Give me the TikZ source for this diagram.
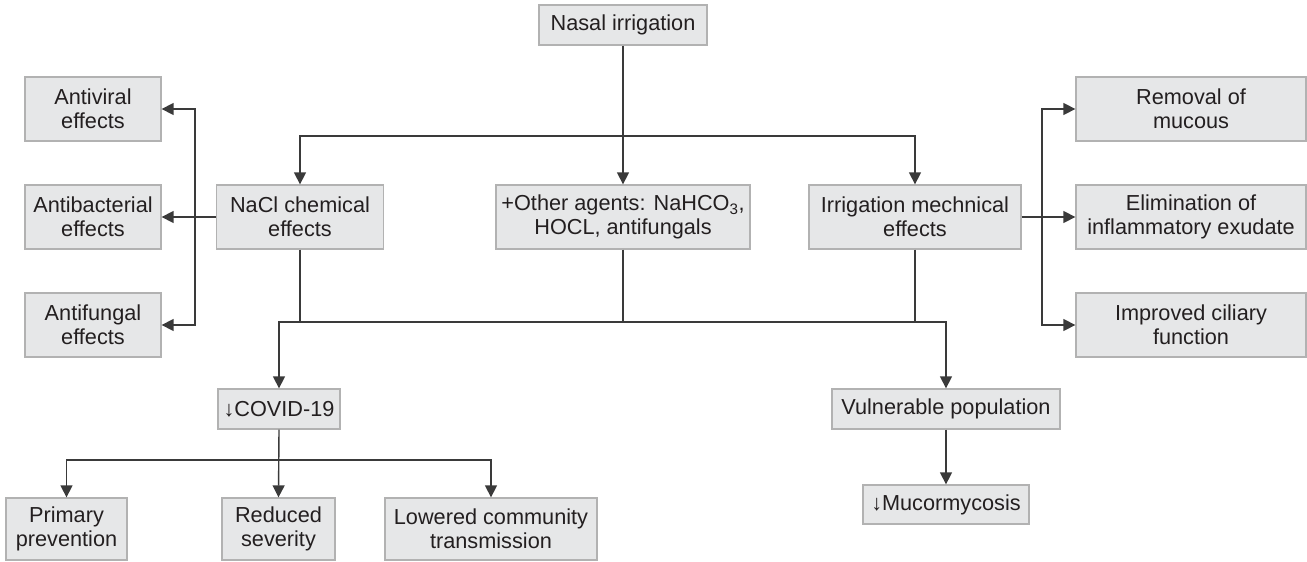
\documentclass[tikz,border=0pt]{standalone}
\usepackage{fontspec}
\setmainfont{Liberation Sans}
\usetikzlibrary{arrows.meta}
\definecolor{boxfill}{HTML}{E6E7E8}
\definecolor{boxline}{HTML}{B2B2B2}
\definecolor{lineC}{HTML}{3A3A3A}
\definecolor{txt}{HTML}{231F20}
\tikzset{
  box/.style={draw=boxline, line width=1.3pt, fill=boxfill, align=center, inner sep=0pt,
    text=txt, font=\fontsize{21.7}{23.8}\selectfont},
  conn/.style={draw=lineC, line width=1.4pt},
  arr/.style={conn, -{Triangle[length=12pt,width=12pt]}}
}
\begin{document}
\begin{tikzpicture}[x=1pt,y=-1pt]
\useasboundingbox (0,0) rectangle (1307,562);
% top
\node[box, minimum width=168pt, minimum height=40pt] (nasal) at (623,25) {Nasal irrigation};
\node[box, minimum width=254pt, minimum height=64pt] (other) at (623,217) {+Other agents: NaHCO\textsubscript{3},\\HOCL, antifungals};
\node[box, minimum width=167pt, minimum height=64pt] (nacl) at (300,217) {NaCl chemical\\effects};
\node[box, minimum width=212pt, minimum height=64pt] (irr) at (915,217) {Irrigation mechnical\\effects};
% left
\node[box, minimum width=136pt, minimum height=64pt] (avir) at (93,109) {Antiviral\\effects};
\node[box, minimum width=136pt, minimum height=64pt] (abac) at (93,217) {Antibacterial\\effects};
\node[box, minimum width=136pt, minimum height=64pt] (afun) at (93,325) {Antifungal\\effects};
% right
\node[box, minimum width=230pt, minimum height=64pt] (remo) at (1191,109) {Removal of\\mucous};
\node[box, minimum width=230pt, minimum height=64pt] (elim) at (1191,217) {Elimination of\\inflammatory exudate};
\node[box, minimum width=230pt, minimum height=64pt] (cili) at (1191,325) {Improved ciliary\\function};
% lower
\node[box, minimum width=122pt, minimum height=40pt] (covid) at (279,409) {↓COVID-19};
\node[box, minimum width=228pt, minimum height=40pt] (vuln) at (946,409) {Vulnerable population};
\node[box, minimum width=166pt, minimum height=39pt] (mucor) at (946,504.5) {↓Mucormycosis};
\node[box, minimum width=121pt, minimum height=62pt] (prim) at (66.5,529) {Primary\\prevention};
\node[box, minimum width=113pt, minimum height=62pt] (redu) at (278.5,529) {Reduced\\severity};
\node[box, minimum width=212pt, minimum height=62pt] (lowe) at (491,529) {Lowered community\\transmission};
% junctions
\coordinate (tj) at (623,136);
\coordinate (lj) at (195,217);
\coordinate (rj) at (1042,217);
\coordinate (bj) at (623,322);
\coordinate (cj) at (279,460);
% connectors
\draw[arr] (nasal.south) -- (other.north);
\draw[arr] (tj) -| (nacl.north);
\draw[arr] (tj) -| (irr.north);
\draw[arr] (nacl.west) -- (abac.east);
\draw[arr] (lj) |- (avir.east);
\draw[arr] (lj) |- (afun.east);
\draw[arr] (irr.east) -- (elim.west);
\draw[arr] (rj) |- (remo.west);
\draw[arr] (rj) |- (cili.west);
\draw[conn] (nacl.south) -- (nacl.south |- bj);
\draw[conn] (other.south) -- (bj);
\draw[conn] (irr.south) -- (irr.south |- bj);
\draw[arr] (bj) -| (covid.north);
\draw[arr] (bj) -| (vuln.north);
\draw[arr] (covid.south) -- (redu.north);
\draw[arr] (cj) -| (prim.north);
\draw[arr] (cj) -| (lowe.north);
\draw[arr] (vuln.south) -- (mucor.north);
\end{tikzpicture}
\end{document}
